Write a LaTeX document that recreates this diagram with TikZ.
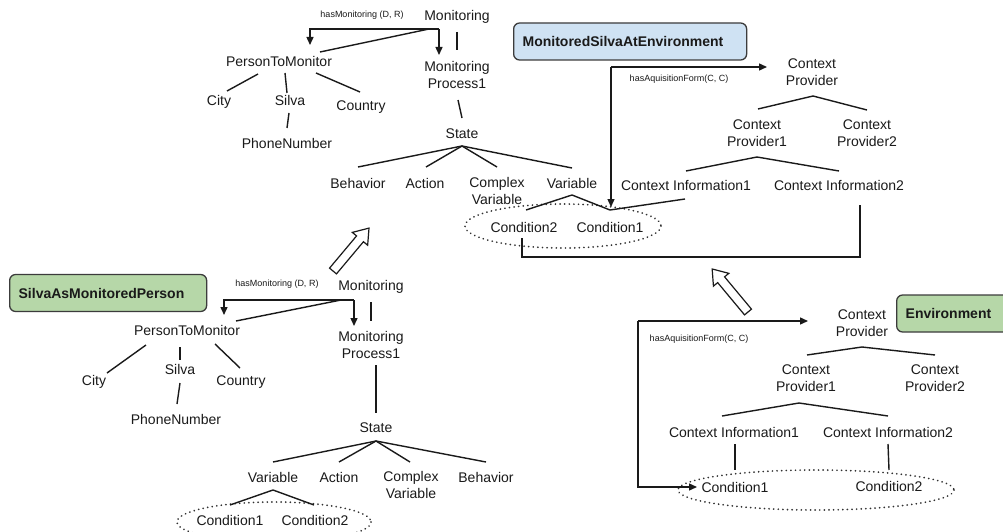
\documentclass[tikz,border=0pt]{standalone}
\usepackage{fontspec}
\setmainfont{Liberation Sans}
\usetikzlibrary{arrows.meta,calc}
\definecolor{boxblue}{HTML}{CFE2F3}
\definecolor{boxgreen}{HTML}{B6D7A8}
\definecolor{ink}{HTML}{1A1A1A}
\tikzset{
  lbl/.style={font=\fontsize{14}{16.5}\selectfont, align=center, inner sep=0pt, text=ink},
  small/.style={font=\fontsize{9}{11}\selectfont, inner sep=0pt, text=ink},
  conn/.style={line width=1.4pt, draw=ink},
  arr/.style={conn, -{Triangle[length=8pt,width=7pt]}},
  dots/.style={line width=1.9pt, draw=ink!90, dash pattern=on 0.01pt off 4.6pt, line cap=round},
  titlebox/.style={draw=ink!85, line width=1.3pt, rounded corners=6pt, anchor=west,
     font=\bfseries\fontsize{14}{16}\selectfont, align=left, inner ysep=0pt, minimum height=37pt, text=ink},
  hollow/.style={draw=ink, line width=1.2pt, fill=white, line join=miter}
}
\begin{document}
\begin{tikzpicture}[x=1pt,y=-1pt]
\useasboundingbox (0,0) rectangle (1003,532);
\fill[white] (0,0) rectangle (1003,532);
\clip (0,0) rectangle (1003,532);

% ================= top-left tree =================
\node[small] (tHas) at (362,15) {hasMonitoring (D, R)};
\node[lbl] (tMon) at (457,17) {Monitoring};
\node[lbl] (tPTM) at (279,61) {PersonToMonitor};
\node[lbl] (tMP) at (457,75) {Monitoring\\Process1};
\node[lbl] (tCity) at (219,102) {City};
\node[lbl] (tSilva) at (290,100) {Silva};
\node[lbl] (tCountry) at (361,107) {Country};
\node[lbl] (tPhone) at (287,143) {PhoneNumber};
\node[lbl] (tState) at (462,134) {State};
\node[lbl] (tBeh) at (358,183) {Behavior};
\node[lbl] (tAct) at (425,183) {Action};
\node[lbl] (tCV) at (497,191) {Complex\\Variable};
\node[lbl] (tVar) at (572,183) {Variable};
\node[lbl] (tC2) at (524,227) {Condition2};
\node[lbl] (tC1) at (610,227) {Condition1};
\coordinate (tEll) at (563,226);
\draw[dots] (tEll) ellipse [x radius=98, y radius=22];

\node[titlebox, fill=boxblue, text width=215pt, inner xsep=9pt, minimum width=233pt] (msae) at (513,41.5) {MonitoredSilvaAtEnvironment};

\draw[arr] ($(tMon)+(-18,12)$) -- ($(tMP)+(-18,-20)$);
\draw[arr] ($(tMon)+(-18,12)$) -| ($(tPTM)+(31,-16)$);
\draw[conn] ($(tMon)+(-28,12)$) -- ($(tPTM)+(41,-9)$);
\draw[conn] ($(tMon)+(0,15)$) -- ($(tMP)+(0,-25)$);
\draw[conn] ($(tPTM)+(-21,13)$) -- ($(tCity)+(8,-11)$);
\draw[conn] ($(tPTM)+(6,12)$) -- ($(tSilva)+(-3,-7)$);
\draw[conn] ($(tPTM)+(37,12)$) -- ($(tCountry)+(-1,-15)$);
\draw[conn] ($(tSilva)+(-1,13)$) -- ($(tPhone)+(0,-15)$);
\draw[conn] ($(tMP)+(1,25)$) -- ($(tState)+(0,-16)$);
\draw[conn] ($(tBeh)+(0,-16)$) -- ($(tState)+(0,12)$) -- ($(tVar)+(0,-15)$);
\draw[conn] ($(tState)+(0,12)$) -- ($(tAct)+(1,-16)$);
\draw[conn] ($(tState)+(0,12)$) -- ($(tCV)+(0,-24)$);
\draw[conn] ($(tC2)+(2,-17)$) -- ($(tVar)+(0,12)$) -- ($(tC1)+(0,-17)$);

% ================= top-right tree =================
\node[lbl] (tCP) at (812,72) {Context\\Provider};
\node[lbl] (tCP1) at (757,133) {Context\\Provider1};
\node[lbl] (tCP2) at (867,133) {Context\\Provider2};
\node[lbl] (tCI1) at (686,185) {Context Information1};
\node[lbl] (tCI2) at (839,185) {Context Information2};
\node[small] (tHasA) at (679,79) {hasAquisitionForm(C, C)};
\coordinate (tAF) at (611,67);
\draw[arr] (tAF) -- ($(tCP)+(-45,-5)$);
\draw[arr] (tAF) -- ($(tC1)+(1,-20)$);
\draw[conn] ($(tCI1)+(-1,14)$) -- ($(tC1)+(0,-17)$);
\draw[conn] ($(tC2)+(-2,11)$) |- ($(tCI2)+(21,72)$) -- ($(tCI2)+(21,20)$);
\draw[conn] ($(tCP1)+(1,-24)$) -- ($(tCP)+(1,24)$) -- ($(tCP2)+(0,-23)$);
\draw[conn] ($(tCI1)+(0,-14)$) -- ($(tCP1)+(0,24)$) -- ($(tCI2)+(0,-14)$);

% ================= hollow arrows =================
\begin{scope}[shift={(333,271)}, rotate=50]
  \draw[hollow] (0,-4.5) -- (42,-4.5) -- (42,-10) -- (56,0) -- (42,10) -- (42,4.5) -- (0,4.5) -- cycle;
\end{scope}
\begin{scope}[shift={(748,312)}, rotate=129.8]
  \draw[hollow] (0,-4.5) -- (42,-4.5) -- (42,-10) -- (56,0) -- (42,10) -- (42,4.5) -- (0,4.5) -- cycle;
\end{scope}

% ================= bottom-left tree =================
\node[titlebox, fill=boxgreen, text width=179pt, inner xsep=9pt, minimum width=197pt] (samp) at (9,293) {SilvaAsMonitoredPerson};
\node[small] (bHas) at (277,284) {hasMonitoring (D, R)};
\node[lbl] (bMon) at (371,287) {Monitoring};
\node[lbl] (bPTM) at (187,330) {PersonToMonitor};
\node[lbl] (bMP) at (371,345) {Monitoring\\Process1};
\node[lbl] (bCity) at (94,382) {City};
\node[lbl] (bSilva) at (180,369) {Silva};
\node[lbl] (bCountry) at (241,382) {Country};
\node[lbl] (bPhone) at (176,419) {PhoneNumber};
\node[lbl] (bState) at (376,428) {State};
\node[lbl] (bVar) at (273,477) {Variable};
\node[lbl] (bAct) at (339,477) {Action};
\node[lbl] (bCV) at (411,485) {Complex\\Variable};
\node[lbl] (bBeh) at (486,477) {Behavior};
\node[lbl] (bC1) at (230,520) {Condition1};
\node[lbl] (bC2) at (315,520) {Condition2};
\coordinate (bEll) at (274,522);
\draw[dots] (bEll) ellipse [x radius=97, y radius=20];

\draw[arr] ($(bMon)+(-17,13)$) -- ($(bMP)+(-17,-19)$);
\draw[arr] ($(bMon)+(-17,13)$) -| ($(bPTM)+(37,-15)$);
\draw[conn] ($(bMon)+(-30,13)$) -- ($(bPTM)+(49,-9)$);
\draw[conn] ($(bMon)+(0,15)$) -- ($(bMP)+(0,-24)$);
\draw[conn] ($(bPTM)+(-41,15)$) -- ($(bCity)+(13,-9)$);
\draw[conn] ($(bPTM)+(-7,17)$) -- ($(bSilva)+(0,-9)$);
\draw[conn] ($(bPTM)+(28,14)$) -- ($(bCountry)+(-1,-14)$);
\draw[conn] ($(bSilva)+(0,14)$) -- ($(bPhone)+(1,-15)$);
\draw[conn] ($(bMP)+(5,20)$) -- ($(bState)+(0,-15)$);
\draw[conn] ($(bVar)+(0,-15)$) -- ($(bState)+(0,13)$) -- ($(bBeh)+(0,-15)$);
\draw[conn] ($(bState)+(0,13)$) -- ($(bAct)+(0,-15)$);
\draw[conn] ($(bState)+(0,13)$) -- ($(bCV)+(-1,-23)$);
\draw[conn] ($(bC1)+(0,-15)$) -- ($(bVar)+(0,13)$) -- ($(bC2)+(-1,-15)$);

% ================= bottom-right tree =================
\node[titlebox, fill=boxgreen, text width=100pt, inner xsep=9pt, minimum width=118pt] (env) at (896,313.5) {Environment};
\node[lbl] (rCP) at (862,323) {Context\\Provider};
\node[lbl] (rCP1) at (806,378) {Context\\Provider1};
\node[lbl] (rCP2) at (935,378) {Context\\Provider2};
\node[lbl] (rCI1) at (734,432) {Context Information1};
\node[lbl] (rCI2) at (888,432) {Context Information2};
\node[lbl] (rC1) at (735,487) {Condition1};
\node[lbl] (rC2) at (889,486) {Condition2};
\node[small] (rHasA) at (699,339) {hasAquisitionForm(C, C)};
\coordinate (rEll) at (816,490);
\draw[dots] (rEll) ellipse [x radius=138, y radius=20];
\coordinate (rAF) at (638,321);
\draw[arr] (rAF) -- ($(rCP)+(-54,-2)$);
\draw[arr] (rAF) |- ($(rC1)+(-38,0)$);
\draw[conn] ($(rCP1)+(1,-23)$) -- ($(rCP)+(0,24)$) -- ($(rCP2)+(0,-23)$);
\draw[conn] ($(rCI1)+(-12,-16)$) -- ($(rCP1)+(-7,25)$) -- ($(rCI2)+(0,-16)$);
\draw[conn] ($(rCI1)+(1,12)$) -- ($(rC1)+(0,-17)$);
\draw[conn] ($(rCI2)+(0,12)$) -- ($(rC2)+(0,-16)$);
\end{tikzpicture}
\end{document}
